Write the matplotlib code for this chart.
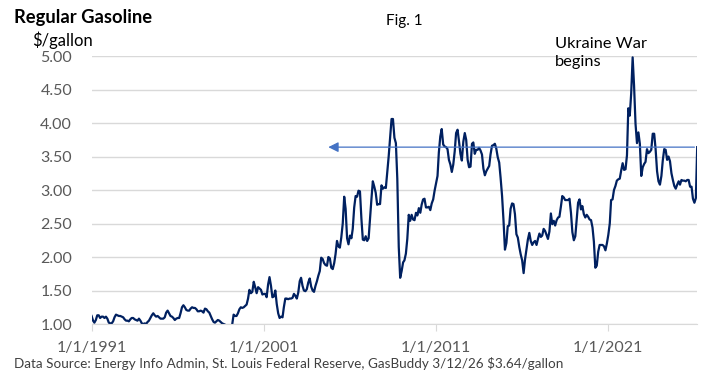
import pandas as pd
import matplotlib.pyplot as plt
import matplotlib.dates as mdates

# Precio mensual de la gasolina regular ($/galon)
prices_1990s = [
    1.12, 1.05, 1.02, 1.06, 1.13, 1.13, 1.09, 1.11, 1.11, 1.09, 1.11, 1.08,  # 1991
    1.02, 1.01, 1.01, 1.04, 1.10, 1.14, 1.13, 1.12, 1.12, 1.11, 1.10, 1.07,  # 1992
    1.05, 1.05, 1.04, 1.07, 1.09, 1.09, 1.07, 1.06, 1.05, 1.08, 1.05, 1.01,  # 1993
    1.00, 1.01, 1.00, 1.03, 1.05, 1.09, 1.13, 1.16, 1.13, 1.11, 1.12, 1.10,  # 1994
    1.08, 1.08, 1.08, 1.10, 1.17, 1.20, 1.16, 1.12, 1.11, 1.09, 1.06, 1.08,  # 1995
    1.09, 1.09, 1.16, 1.25, 1.28, 1.25, 1.21, 1.20, 1.20, 1.23, 1.25, 1.24,  # 1996
    1.24, 1.22, 1.19, 1.19, 1.20, 1.19, 1.17, 1.23, 1.22, 1.19, 1.17, 1.12,  # 1997
    1.07, 1.03, 1.02, 1.04, 1.06, 1.05, 1.03, 1.01, 1.00, 0.99, 0.97, 0.93,  # 1998
    0.94, 0.92, 0.99, 1.14, 1.12, 1.12, 1.16, 1.22, 1.25, 1.24, 1.25, 1.27,  # 1999
]
prices_2000s = [
    1.29, 1.38, 1.51, 1.46, 1.48, 1.63, 1.55, 1.46, 1.55, 1.53, 1.51, 1.44,  # 2000
    1.45, 1.45, 1.40, 1.59, 1.70, 1.57, 1.40, 1.41, 1.50, 1.30, 1.16, 1.09,  # 2001
    1.11, 1.10, 1.25, 1.38, 1.38, 1.37, 1.38, 1.38, 1.39, 1.45, 1.42, 1.38,  # 2002
    1.47, 1.64, 1.69, 1.57, 1.50, 1.49, 1.52, 1.62, 1.68, 1.56, 1.50, 1.48,  # 2003
    1.57, 1.64, 1.72, 1.79, 1.99, 1.97, 1.91, 1.88, 1.87, 2.00, 1.98, 1.84,  # 2004
    1.82, 1.91, 2.04, 2.24, 2.16, 2.14, 2.29, 2.50, 2.90, 2.72, 2.28, 2.19,  # 2005
    2.32, 2.28, 2.42, 2.74, 2.91, 2.90, 2.99, 2.98, 2.57, 2.26, 2.25, 2.31,  # 2006
    2.24, 2.28, 2.56, 2.86, 3.13, 3.05, 2.96, 2.78, 2.79, 2.79, 3.07, 3.02,  # 2007
    3.04, 3.03, 3.26, 3.50, 3.77, 4.06, 4.06, 3.78, 3.70, 3.17, 2.15, 1.69,  # 2008
    1.79, 1.92, 1.95, 2.05, 2.27, 2.63, 2.54, 2.63, 2.56, 2.55, 2.66, 2.62,  # 2009
]
prices_2010s = [
    2.73, 2.66, 2.78, 2.86, 2.87, 2.74, 2.74, 2.75, 2.70, 2.80, 2.86, 2.99,  # 2010
    3.10, 3.21, 3.56, 3.80, 3.91, 3.68, 3.65, 3.64, 3.61, 3.45, 3.38, 3.27,  # 2011
    3.38, 3.58, 3.85, 3.90, 3.73, 3.54, 3.44, 3.72, 3.85, 3.75, 3.45, 3.34,  # 2012
    3.35, 3.69, 3.71, 3.54, 3.60, 3.60, 3.63, 3.59, 3.53, 3.32, 3.22, 3.28,  # 2013
    3.32, 3.36, 3.53, 3.66, 3.67, 3.69, 3.62, 3.49, 3.41, 3.18, 2.91, 2.55,  # 2014
    2.11, 2.21, 2.46, 2.47, 2.72, 2.80, 2.79, 2.64, 2.34, 2.29, 2.15, 2.04,  # 2015
    1.95, 1.76, 1.96, 2.11, 2.26, 2.36, 2.24, 2.18, 2.22, 2.24, 2.18, 2.27,  # 2016
    2.35, 2.30, 2.32, 2.42, 2.39, 2.33, 2.27, 2.38, 2.65, 2.49, 2.54, 2.47,  # 2017
    2.55, 2.59, 2.60, 2.75, 2.91, 2.89, 2.85, 2.85, 2.85, 2.87, 2.66, 2.37,  # 2018
    2.25, 2.31, 2.54, 2.81, 2.86, 2.71, 2.76, 2.64, 2.59, 2.63, 2.60, 2.56,  # 2019
]
prices_2020s = [
    2.55, 2.44, 2.23, 1.84, 1.87, 2.08, 2.18, 2.18, 2.18, 2.16, 2.10, 2.20,  # 2020
    2.33, 2.50, 2.85, 2.86, 3.00, 3.06, 3.14, 3.16, 3.17, 3.29, 3.40, 3.30,  # 2021
    3.31, 3.52, 4.22, 4.11, 4.44, 4.98, 4.56, 3.99, 3.70, 3.86, 3.69, 3.21,  # 2022
    3.34, 3.39, 3.42, 3.61, 3.55, 3.57, 3.60, 3.84, 3.84, 3.61, 3.28, 3.13,  # 2023
    3.08, 3.21, 3.44, 3.61, 3.60, 3.45, 3.50, 3.43, 3.25, 3.15, 3.06, 3.02,  # 2024
    3.08, 3.13, 3.08, 3.15, 3.14, 3.14, 3.13, 3.15, 3.15, 3.05, 3.05, 2.87,  # 2025
    2.81, 2.88, 3.64,                                                        # 2026
]

current_price = 3.64
arrow_start = "2004-08-01"
tick_years = ["1991-01-01", "2001-01-01", "2011-01-01", "2021-01-01"]
tick_labels = ["1/1/1991", "1/1/2001", "1/1/2011", "1/1/2021"]
y_ticks = [1.0, 1.5, 2.0, 2.5, 3.0, 3.5, 4.0, 4.5, 5.0]

# Armar la serie mensual
prices = prices_1990s + prices_2000s + prices_2010s + prices_2020s
dates = pd.date_range("1991-01-01", periods=len(prices), freq="MS")

plt.rcParams["font.family"] = ["Lato", "DejaVu Sans"]

fig = plt.figure(figsize=(7.27, 3.85), dpi=100)
ax = fig.add_axes([0.126, 0.1584, 0.833, 0.6961])

ax.plot(dates, prices, color="#002060", linewidth=1.6)

# Flecha del precio actual
ax.annotate(
    "",
    xy=(pd.Timestamp(arrow_start), current_price),
    xytext=(dates[-1], current_price),
    arrowprops=dict(arrowstyle="-|>", color="#4472C4", lw=0.9, mutation_scale=15),
)

# Ejes
ax.set_ylim(1.0, 5.0)
ax.set_xlim(dates[0], dates[-1])
ax.set_yticks(y_ticks)
ax.set_yticklabels([f"{v:.2f}" for v in y_ticks])
ax.set_xticks(pd.to_datetime(tick_years))
ax.set_xticklabels(tick_labels)
ax.grid(True, axis="y", color="#D9D9D9", linewidth=1)
ax.set_axisbelow(True)
for side in ["top", "right", "left"]:
    ax.spines[side].set_visible(False)
ax.spines["bottom"].set_color("#D9D9D9")
ax.tick_params(axis="y", length=0, pad=14, labelsize=11.5, labelcolor="#595959")
ax.tick_params(axis="x", length=5, color="#D9D9D9", pad=7, labelsize=11.5, labelcolor="#595959")

# Textos
fig.text(14 / 727, 1 - 18 / 385, "Regular Gasoline", fontsize=13.2, fontweight="bold", va="center")
fig.text(32 / 727, 1 - 40 / 385, "$/gallon", fontsize=12, va="center")
fig.text(386 / 727, 1 - 21 / 385, "Fig. 1", fontsize=11, va="center")
fig.text(555 / 727, 1 - 53 / 385, "Ukraine War\nbegins", fontsize=11.8, va="center", linespacing=1.3)
fig.text(14 / 727, 1 - 363 / 385,
         "Data Source: Energy Info Admin, St. Louis Federal Reserve, GasBuddy 3/12/26 $3.64/gallon",
         fontsize=9.7, va="center", color="#404040")

plt.savefig("out.png", dpi=100)
